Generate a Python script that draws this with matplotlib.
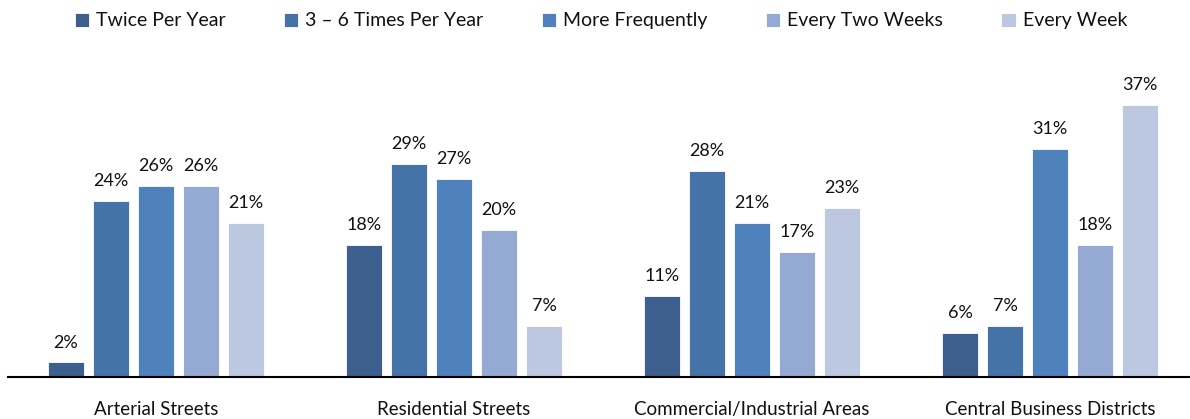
import numpy as np
import matplotlib
matplotlib.use("Agg")
import matplotlib.pyplot as plt

categories = ["Arterial Streets", "Residential Streets",
              "Commercial/Industrial Areas", "Central Business Districts"]
series_names = ["Twice Per Year", "3 \u2013 6 Times Per Year", "More Frequently",
                "Every Two Weeks", "Every Week"]
twice_per_year = [2, 18, 11, 6]
three_six_times = [24, 29, 28, 7]
more_frequently = [26, 27, 21, 31]
every_two_weeks = [26, 20, 17, 18]
every_week = [21, 7, 23, 37]

series = [twice_per_year, three_six_times, more_frequently, every_two_weeks, every_week]
colors = ["#3C5F8E", "#4573A8", "#4F81BD", "#95AAD2", "#BCC8E0"]

plt.rcParams["font.family"] = ["Lato", "DejaVu Sans"]

fig = plt.figure(figsize=(11.9, 4.19), dpi=100)
ax = fig.add_axes([0.0067, 0.1002, 0.9933, 0.7018])

x = np.arange(len(categories))
step = 0.151
width = 0.118
for i, (name, vals, col) in enumerate(zip(series_names, series, colors)):
    pos = x + (i - 2) * step
    bars = ax.bar(pos, vals, width, color=col, label=name,
                  edgecolor="white", linewidth=0.6)
    for b, v in zip(bars, vals):
        ax.annotate(f"{v}%", (b.get_x() + b.get_width() / 2, v),
                    xytext=(0, 8.5), textcoords="offset points",
                    ha="center", va="bottom", fontsize=13, color="#111111")

ax.set_xlim(-0.497, 3.47)
ax.set_ylim(0, 40)
ax.set_yticks([])
ax.set_xticks(x)
ax.set_xticklabels(categories, fontsize=13.5, color="#111111")
ax.tick_params(axis="x", length=0, pad=17)
for s in ["top", "right", "left"]:
    ax.spines[s].set_visible(False)
ax.spines["bottom"].set_color("black")
ax.spines["bottom"].set_linewidth(1.5)

leg = fig.legend(loc="center", bbox_to_anchor=(0.505, 0.95), ncol=5, frameon=False,
                 fontsize=14, handlelength=0.75, handleheight=0.75,
                 handletextpad=0.35, columnspacing=3.0)
for t in leg.get_texts():
    t.set_color("#111111")

fig.savefig("out.png", dpi=100)
